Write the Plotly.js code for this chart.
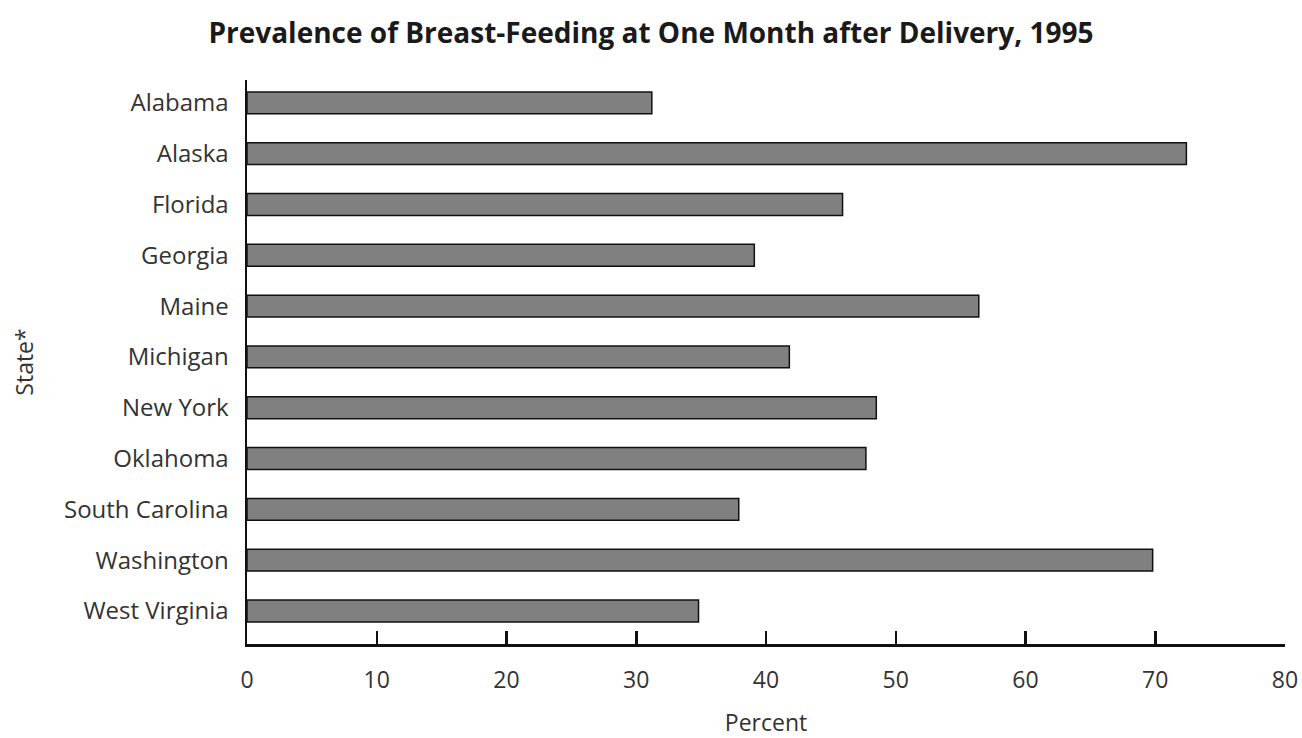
<!DOCTYPE html>
<html>
<head>
<meta charset="utf-8">
<script src="https://cdn.plot.ly/plotly-3.0.1.min.js"></script>
<style>html,body{margin:0;padding:0;background:#fff;}#chart{width:1302px;height:738px;}</style>
</head>
<body>
<div id="chart"></div>
<script>
const states = ["Alabama","Alaska","Florida","Georgia","Maine","Michigan","New York","Oklahoma","South Carolina","Washington","West Virginia"];
const percents = [31.2, 72.4, 45.9, 39.1, 56.4, 41.8, 48.5, 47.7, 37.9, 69.8, 34.8];
const xTicks = [0,10,20,30,40,50,60,70,80];
const titleText = "Prevalence of Breast-Feeding at One Month after Delivery, 1995";
const xTitle = "Percent";
const yTitle = "State*";

const FONT = "'Open Sans', 'Noto Sans', sans-serif";
const trace = {
  type: "bar",
  orientation: "h",
  x: percents,
  y: states,
  width: 0.43,
  marker: {color: "#808080", line: {color: "#111", width: 1.5}},
  hoverinfo: "x+y"
};
const layout = {
  width: 1302, height: 738,
  margin: {l: 247, r: 17, t: 80, b: 94},
  paper_bgcolor: "#fff", plot_bgcolor: "#fff",
  font: {family: FONT, color: "#333", size: 24},
  title: {text: "<b>" + titleText + "</b>", x: 0.5, xanchor: "center", y: 0.955, yanchor: "middle", font: {family: FONT, size: 28, color: "#1a1a1a"}},
  xaxis: {
    range: [0, 80], tickvals: xTicks, ticktext: xTicks.map(String),
    showgrid: false, zeroline: false, showline: true, linecolor: "#111", linewidth: 2.5,
    ticks: "inside", ticklen: 13, tickwidth: 2.5, tickcolor: "#111",
    ticklabelstandoff: 14,
    tickfont: {size: 23, color: "#333"},
    title: {text: xTitle, font: {size: 23, color: "#333"}, standoff: 37}
  },
  yaxis: {
    type: "category", categoryorder: "array", categoryarray: states,
    range: [10.65, -0.45],
    showgrid: false, zeroline: false, showline: true, linecolor: "#111", linewidth: 2.5,
    ticks: "", ticklabelstandoff: 11,
    tickfont: {size: 24, color: "#333"},
    title: {text: yTitle, font: {size: 23, color: "#333"}, standoff: 24}
  },
  bargap: 0.57,
  showlegend: false
};
Plotly.newPlot("chart", [trace], layout, {displayModeBar: false, staticPlot: true});
</script>
</body>
</html>
